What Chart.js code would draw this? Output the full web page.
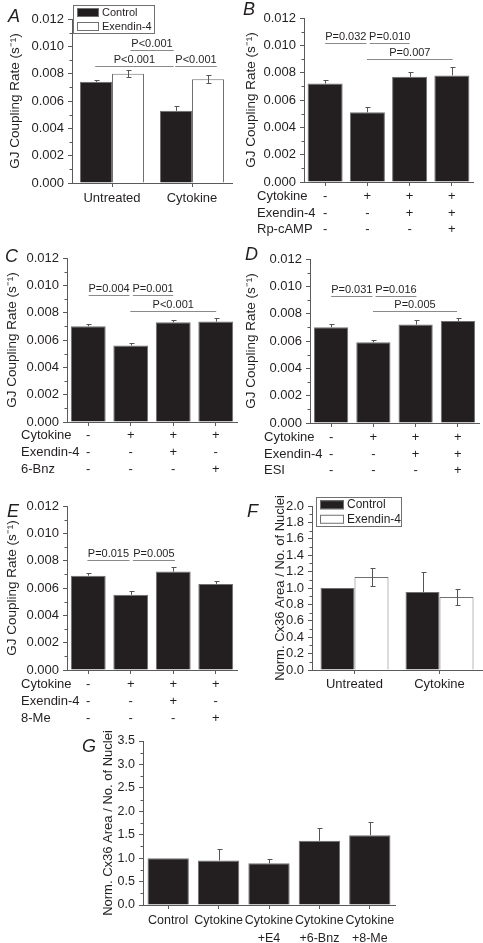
<!DOCTYPE html>
<html>
<head>
<meta charset="utf-8">
<script src="https://cdn.jsdelivr.net/npm/chart.js@4.4.1/dist/chart.umd.min.js"></script>
<style>
  html, body { margin: 0; padding: 0; background: #fff; }
  body { width: 483px; height: 943px; position: relative; overflow: hidden; }
  canvas { position: absolute; }
</style>
</head>
<body>
<canvas id="pA"></canvas>
<canvas id="pB"></canvas>
<canvas id="pC"></canvas>
<canvas id="pD"></canvas>
<canvas id="pE"></canvas>
<canvas id="pF"></canvas>
<canvas id="pG"></canvas>
<script>
'use strict';

// ── Data ──────────────────────────────────────────────
const GROUPS      = ['Untreated', 'Cytokine'];
const SERIES      = ['Control', 'Exendin-4'];
const GJ_TITLE    = 'GJ Coupling Rate (s\u207B\u00B9)';
const CX_TITLE    = 'Norm. Cx36 Area / No. of Nuclei';
const GJ_TICKS    = [0, 0.012, 0.002];     // min, max, step
const CX_TICKS_F  = [0, 2.0, 0.2];
const CX_TICKS_G  = [0, 3.5, 0.5];

// A
const A_CONTROL     = [0.0074, 0.00528];
const A_CONTROL_ERR = [0.00017, 0.00034];
const A_EXENDIN     = [0.0080, 0.0076];
const A_EXENDIN_ERR = [0.00027, 0.0003];
const A_PVALS = [                        // from, to (category units), y, text
  [0.23, 0.77, 0.0097, 'P<0.001'],
  [-0.21, 0.77, 0.00856, 'P<0.001'],
  [0.79, 1.31, 0.00856, 'P<0.001'],
];

// B
const B_ROWS     = ['Cytokine', 'Exendin-4', 'Rp-cAMP'];
const B_CYTOKINE = ['-', '+', '+', '+'];
const B_EXENDIN  = ['-', '-', '+', '+'];
const B_RPCAMP   = ['-', '-', '-', '+'];
const B_VALUES   = [0.0072, 0.0051, 0.0077, 0.0078];
const B_ERRORS   = [0.00025, 0.0004, 0.00037, 0.0006];
const B_PVALS = [
  [0.0, 0.98, 0.01015, 'P=0.032'],
  [1.06, 2.0, 0.01015, 'P=0.010'],
  [0.99, 3.02, 0.0090, 'P=0.007'],
];

// C
const C_ROWS     = ['Cytokine', 'Exendin-4', '6-Bnz'];
const C_CYTOKINE = ['-', '+', '+', '+'];
const C_EXENDIN  = ['-', '-', '+', '-'];
const C_BNZ      = ['-', '-', '-', '+'];
const C_VALUES   = [0.0070, 0.0056, 0.0073, 0.00735];
const C_ERRORS   = [0.00015, 0.0002, 0.00015, 0.00025];
const C_PVALS = [
  [0.01, 0.97, 0.00928, 'P=0.004'],
  [1.05, 2.0, 0.00928, 'P=0.001'],
  [0.99, 3.01, 0.00814, 'P<0.001'],
];

// D
const D_ROWS     = ['Cytokine', 'Exendin-4', 'ESI'];
const D_CYTOKINE = ['-', '+', '+', '+'];
const D_EXENDIN  = ['-', '-', '+', '+'];
const D_ESI      = ['-', '-', '-', '+'];
const D_VALUES   = [0.0070, 0.0059, 0.0072, 0.00746];
const D_ERRORS   = [0.00025, 0.0002, 0.00036, 0.00025];
const D_PVALS = [
  [0.0, 0.98, 0.0093, 'P=0.031'],
  [1.05, 2.02, 0.0093, 'P=0.016'],
  [0.99, 2.98, 0.0082, 'P=0.005'],
];

// E
const E_ROWS     = ['Cytokine', 'Exendin-4', '8-Me'];
const E_CYTOKINE = ['-', '+', '+', '+'];
const E_EXENDIN  = ['-', '-', '+', '-'];
const E_8ME      = ['-', '-', '-', '+'];
const E_VALUES   = [0.0069, 0.0055, 0.0072, 0.0063];
const E_ERRORS   = [0.0002, 0.00025, 0.00035, 0.0002];
const E_PVALS = [
  [-0.02, 0.97, 0.00805, 'P=0.015'],
  [1.05, 2.04, 0.00805, 'P=0.005'],
];

// F
const F_CONTROL     = [1.0, 0.95];
const F_CONTROL_ERR = [0, 0.245];
const F_EXENDIN     = [1.135, 0.89];
const F_EXENDIN_ERR = [0.105, 0.095];

// G
const G_LABELS = [['Control'], ['Cytokine'], ['Cytokine', '+E4'], ['Cytokine', '+6-Bnz'], ['Cytokine', '+8-Me']];
const G_VALUES = [1.0, 0.95, 0.89, 1.37, 1.49];
const G_ERRORS = [0, 0.245, 0.09, 0.27, 0.28];

// ── Look ──────────────────────────────────────────────
const FONT   = '"Liberation Sans", Arial, Helvetica, sans-serif';
const INK    = '#231f20';
const AXIS   = '#5a5a5a';
const BLACK  = '#231f20';
const EDGE   = '#707070';
const ERRCOL = '#555555';
const PLINE  = '#8a8a8a';

// page boxes for each panel (canvas rect + plot rect)
const BOX = {
  A: { left: 0,   top: 0,   width: 240, height: 215, axisX: 72,  plotRight: 232, plotTop: 19,  plotBottom: 183, titleX: 15,  letter: 'A', letterX: 8,   letterY: 22 },
  B: { left: 240, top: 0,   width: 243, height: 242, axisX: 304, plotRight: 473, plotTop: 18,  plotBottom: 182, titleX: 251, letter: 'B', letterX: 243, letterY: 15, rowX: 257 },
  C: { left: 0,   top: 240, width: 240, height: 240, axisX: 67,  plotRight: 237, plotTop: 258, plotBottom: 422, titleX: 12,  letter: 'C', letterX: 5,   letterY: 262, rowX: 21 },
  D: { left: 240, top: 240, width: 243, height: 240, axisX: 310, plotRight: 479, plotTop: 259, plotBottom: 423, titleX: 251, letter: 'D', letterX: 245, letterY: 260, rowX: 264 },
  E: { left: 0,   top: 490, width: 240, height: 240, axisX: 67,  plotRight: 237, plotTop: 506, plotBottom: 670, titleX: 12,  letter: 'E', letterX: 7,   letterY: 517, rowX: 21 },
  F: { left: 240, top: 475, width: 243, height: 225, axisX: 312, plotRight: 482, plotTop: 506, plotBottom: 670, titleX: 280, letter: 'F', letterX: 247, letterY: 517 },
  G: { left: 60,  top: 705, width: 360, height: 238, axisX: 143, plotRight: 395, plotTop: 741, plotBottom: 905, titleX: 108, letter: 'G', letterX: 82,  letterY: 752 },
};

const LEGEND = {
  A: { x: 73, y: 5,   w: 81, h: 28, sw: 22, font: 11 },
  F: { x: 316, y: 497, w: 85, h: 29, sw: 24, font: 12 },
};

// ── Plugin: error bars, minor ticks, p-values, row labels, legend, letter ──
const figurePlugin = {
  id: 'figure',

  afterDatasetsDraw(chart) {
    const ctx = chart.ctx;
    const ys  = chart.scales.y;
    ctx.save();
    ctx.strokeStyle = ERRCOL;
    ctx.lineWidth = 1;
    chart.data.datasets.forEach((ds, di) => {
      if (!ds.errors) return;
      chart.getDatasetMeta(di).data.forEach((bar, i) => {
        const e = ds.errors[i];
        if (!e) return;
        const v  = ds.data[i];
        const x  = Math.round(bar.x) + 0.5;
        const yt = Math.round(ys.getPixelForValue(v + e)) + 0.5;
        const yb = ds.errBoth ? Math.round(ys.getPixelForValue(v - e)) + 0.5 : bar.y;
        ctx.beginPath();
        ctx.moveTo(x, yb); ctx.lineTo(x, yt);
        ctx.moveTo(x - 2, yt); ctx.lineTo(x + 3, yt);
        if (ds.errBoth) { ctx.moveTo(x - 2, yb); ctx.lineTo(x + 3, yb); }
        ctx.stroke();
      });
    });
    ctx.restore();
  },

  afterDraw(chart, args, opts) {
    const ctx = chart.ctx;
    const xs  = chart.scales.x;
    const ys  = chart.scales.y;
    const box = opts.box;
    const area = chart.chartArea;

    ctx.save();

    // minor ticks on y
    ctx.strokeStyle = AXIS;
    ctx.lineWidth = 1;
    const t = ys.ticks;
    for (let i = 0; i < t.length - 1; i++) {
      const y = Math.round(ys.getPixelForValue((t[i].value + t[i + 1].value) / 2)) + 0.5;
      ctx.beginPath();
      ctx.moveTo(area.left - 2.5, y); ctx.lineTo(area.left, y);
      ctx.stroke();
    }

    // p-value lines
    if (opts.pvals) {
      const p0 = xs.getPixelForValue(0);
      const dp = xs.getPixelForValue(1) - p0;
      ctx.font = `11px ${FONT}`;
      ctx.fillStyle = INK;
      ctx.textAlign = 'center';
      ctx.textBaseline = 'middle';
      opts.pvals.forEach(([a, b, v, txt]) => {
        const x1 = p0 + a * dp, x2 = p0 + b * dp;
        const y  = Math.round(ys.getPixelForValue(v)) + 0.5;
        ctx.strokeStyle = PLINE;
        ctx.beginPath();
        ctx.moveTo(x1, y); ctx.lineTo(x2, y);
        ctx.stroke();
        ctx.fillText(txt, (x1 + x2) / 2, y - 7);
      });
    }

    // treatment row names
    if (opts.rows) {
      const tk = xs.options.ticks;
      const lh = tk.font.size * tk.font.lineHeight;
      const y0 = xs.top + xs.options.grid.tickLength + tk.padding;
      ctx.font = `13px ${FONT}`;
      ctx.fillStyle = INK;
      ctx.textAlign = 'left';
      ctx.textBaseline = 'middle';
      opts.rows.forEach((name, i) => {
        ctx.fillText(name, box.rowX - box.left, y0 + lh * (i + 0.5));
      });
    }

    // legend
    if (opts.legend) {
      const L = opts.legend;
      const lx = L.x - box.left, ly = L.y - box.top;
      ctx.fillStyle = '#fff';
      ctx.fillRect(lx, ly, L.w, L.h);
      ctx.strokeStyle = EDGE;
      ctx.strokeRect(lx + 0.5, ly + 0.5, L.w, L.h);
      ctx.font = `${L.font}px ${FONT}`;
      ctx.textAlign = 'left';
      ctx.textBaseline = 'middle';
      chart.data.datasets.forEach((ds, i) => {
        const cy = ly + L.h * (i + 0.5) / 2 + 0.5;
        ctx.fillStyle = ds.backgroundColor;
        ctx.fillRect(lx + 4, cy - 4.5, L.sw, 9);
        ctx.strokeStyle = EDGE;
        ctx.strokeRect(lx + 4.5, cy - 4, L.sw - 1, 8);
        ctx.fillStyle = INK;
        ctx.fillText(ds.label, lx + L.sw + 7, cy);
      });
    }

    // panel letter
    ctx.font = `italic 18px ${FONT}`;
    ctx.fillStyle = INK;
    ctx.textAlign = 'left';
    ctx.textBaseline = 'alphabetic';
    ctx.fillText(box.letter, box.letterX - box.left, box.letterY - box.top);

    ctx.restore();
  },
};

// ── Builder ───────────────────────────────────────────

function makeChart(key, cfg) {
  const box = BOX[key];
  const el  = document.getElementById('p' + key);
  el.width  = box.width;
  el.height = box.height;
  el.style.left = box.left + 'px';
  el.style.top  = box.top + 'px';

  const [ymin, ymax, ystep] = cfg.yTicks;
  const tickFont  = { family: FONT, size: cfg.tickSize || 13 };
  const titleSize = cfg.titleSize || 13.5;

  return new Chart(el, {
    type: 'bar',
    data: { labels: cfg.labels, datasets: cfg.datasets },
    plugins: [figurePlugin],
    options: {
      responsive: false,
      animation: false,
      devicePixelRatio: 1,
      events: [],
      layout: {
        padding: {
          left: 0,
          top: box.plotTop - box.top,
          right: box.left + box.width - box.plotRight,
          bottom: 0,
        },
      },
      plugins: {
        legend:  { display: false },
        tooltip: { enabled: false },
        figure:  { box, pvals: cfg.pvals, rows: cfg.rows, legend: cfg.legend },
      },
      scales: {
        x: {
          type: 'category',
          offset: true,
          grid: { drawOnChartArea: false, drawTicks: true, tickLength: 4, color: AXIS, offset: false },
          border: { color: AXIS },
          ticks: {
            autoSkip: false, maxRotation: 0, color: INK,
            padding: cfg.xPad,
            font: { family: FONT, size: cfg.xSize || 13, lineHeight: cfg.xLine || 1.2 },
          },
          afterFit: s => { s.height = box.top + box.height - box.plotBottom; },
        },
        y: {
          min: ymin, max: ymax,
          ticks: {
            stepSize: ystep, autoSkip: false, color: INK, padding: 4, font: tickFont,
            callback: v => v.toFixed(cfg.decimals),
          },
          grid: { drawOnChartArea: false, drawTicks: true, tickLength: 4, color: AXIS },
          border: { color: AXIS },
          title: {
            display: true, text: cfg.title, color: INK,
            font: { family: FONT, size: titleSize },
            padding: { top: box.titleX - box.left - titleSize * 0.6, bottom: 0 },
          },
          afterFit: s => { s.width = box.axisX - box.left; },
        },
      },
    },
  });
}

function blackSet(values, errors, pct) {
  return {
    label: SERIES[0], data: values, errors, errBoth: false,
    backgroundColor: BLACK, borderColor: EDGE, borderWidth: 1,
    barPercentage: pct, categoryPercentage: 1.0,
  };
}

function pairSets(ctrl, ctrlErr, exe, exeErr) {
  return [
    { label: SERIES[0], data: ctrl, errors: ctrlErr, errBoth: false,
      backgroundColor: BLACK, borderColor: EDGE, borderWidth: 1,
      barPercentage: 1.0, categoryPercentage: 0.8 },
    { label: SERIES[1], data: exe, errors: exeErr, errBoth: true,
      backgroundColor: '#ffffff', borderColor: EDGE, borderWidth: 1,
      barPercentage: 1.0, categoryPercentage: 0.8 },
  ];
}

const columns = (...rows) => rows[0].map((_, i) => rows.map(r => r[i]));

// ── Panels ────────────────────────────────────────────

makeChart('A', {
  labels: GROUPS, yTicks: GJ_TICKS, decimals: 3, title: GJ_TITLE, xPad: 4,
  datasets: pairSets(A_CONTROL, A_CONTROL_ERR, A_EXENDIN, A_EXENDIN_ERR),
  pvals: A_PVALS, legend: LEGEND.A,
});

makeChart('B', {
  labels: columns(B_CYTOKINE, B_EXENDIN, B_RPCAMP), yTicks: GJ_TICKS, decimals: 3, title: GJ_TITLE,
  xPad: 2, xLine: 1.285, rows: B_ROWS,
  datasets: [blackSet(B_VALUES, B_ERRORS, 0.83)], pvals: B_PVALS,
});

makeChart('C', {
  labels: columns(C_CYTOKINE, C_EXENDIN, C_BNZ), yTicks: GJ_TICKS, decimals: 3, title: GJ_TITLE,
  xPad: 1.5, xLine: 1.285, rows: C_ROWS,
  datasets: [blackSet(C_VALUES, C_ERRORS, 0.82)], pvals: C_PVALS,
});

makeChart('D', {
  labels: columns(D_CYTOKINE, D_EXENDIN, D_ESI), yTicks: GJ_TICKS, decimals: 3, title: GJ_TITLE,
  xPad: 2, xLine: 1.285, rows: D_ROWS,
  datasets: [blackSet(D_VALUES, D_ERRORS, 0.81)], pvals: D_PVALS,
});

makeChart('E', {
  labels: columns(E_CYTOKINE, E_EXENDIN, E_8ME), yTicks: GJ_TICKS, decimals: 3, title: GJ_TITLE,
  xPad: 2.5, xLine: 1.285, rows: E_ROWS,
  datasets: [blackSet(E_VALUES, E_ERRORS, 0.82)], pvals: E_PVALS,
});

makeChart('F', {
  labels: GROUPS, yTicks: CX_TICKS_F, decimals: 1, title: CX_TITLE, titleSize: 13, xPad: 3,
  datasets: pairSets(F_CONTROL, F_CONTROL_ERR, F_EXENDIN, F_EXENDIN_ERR),
  legend: LEGEND.F,
});

makeChart('G', {
  labels: G_LABELS, yTicks: CX_TICKS_G, decimals: 1, title: CX_TITLE, titleSize: 13,
  xPad: 3, xSize: 12.5, xLine: 1.44, tickSize: 12.5,
  datasets: [blackSet(G_VALUES, G_ERRORS, 0.82)],
});
</script>
</body>
</html>
